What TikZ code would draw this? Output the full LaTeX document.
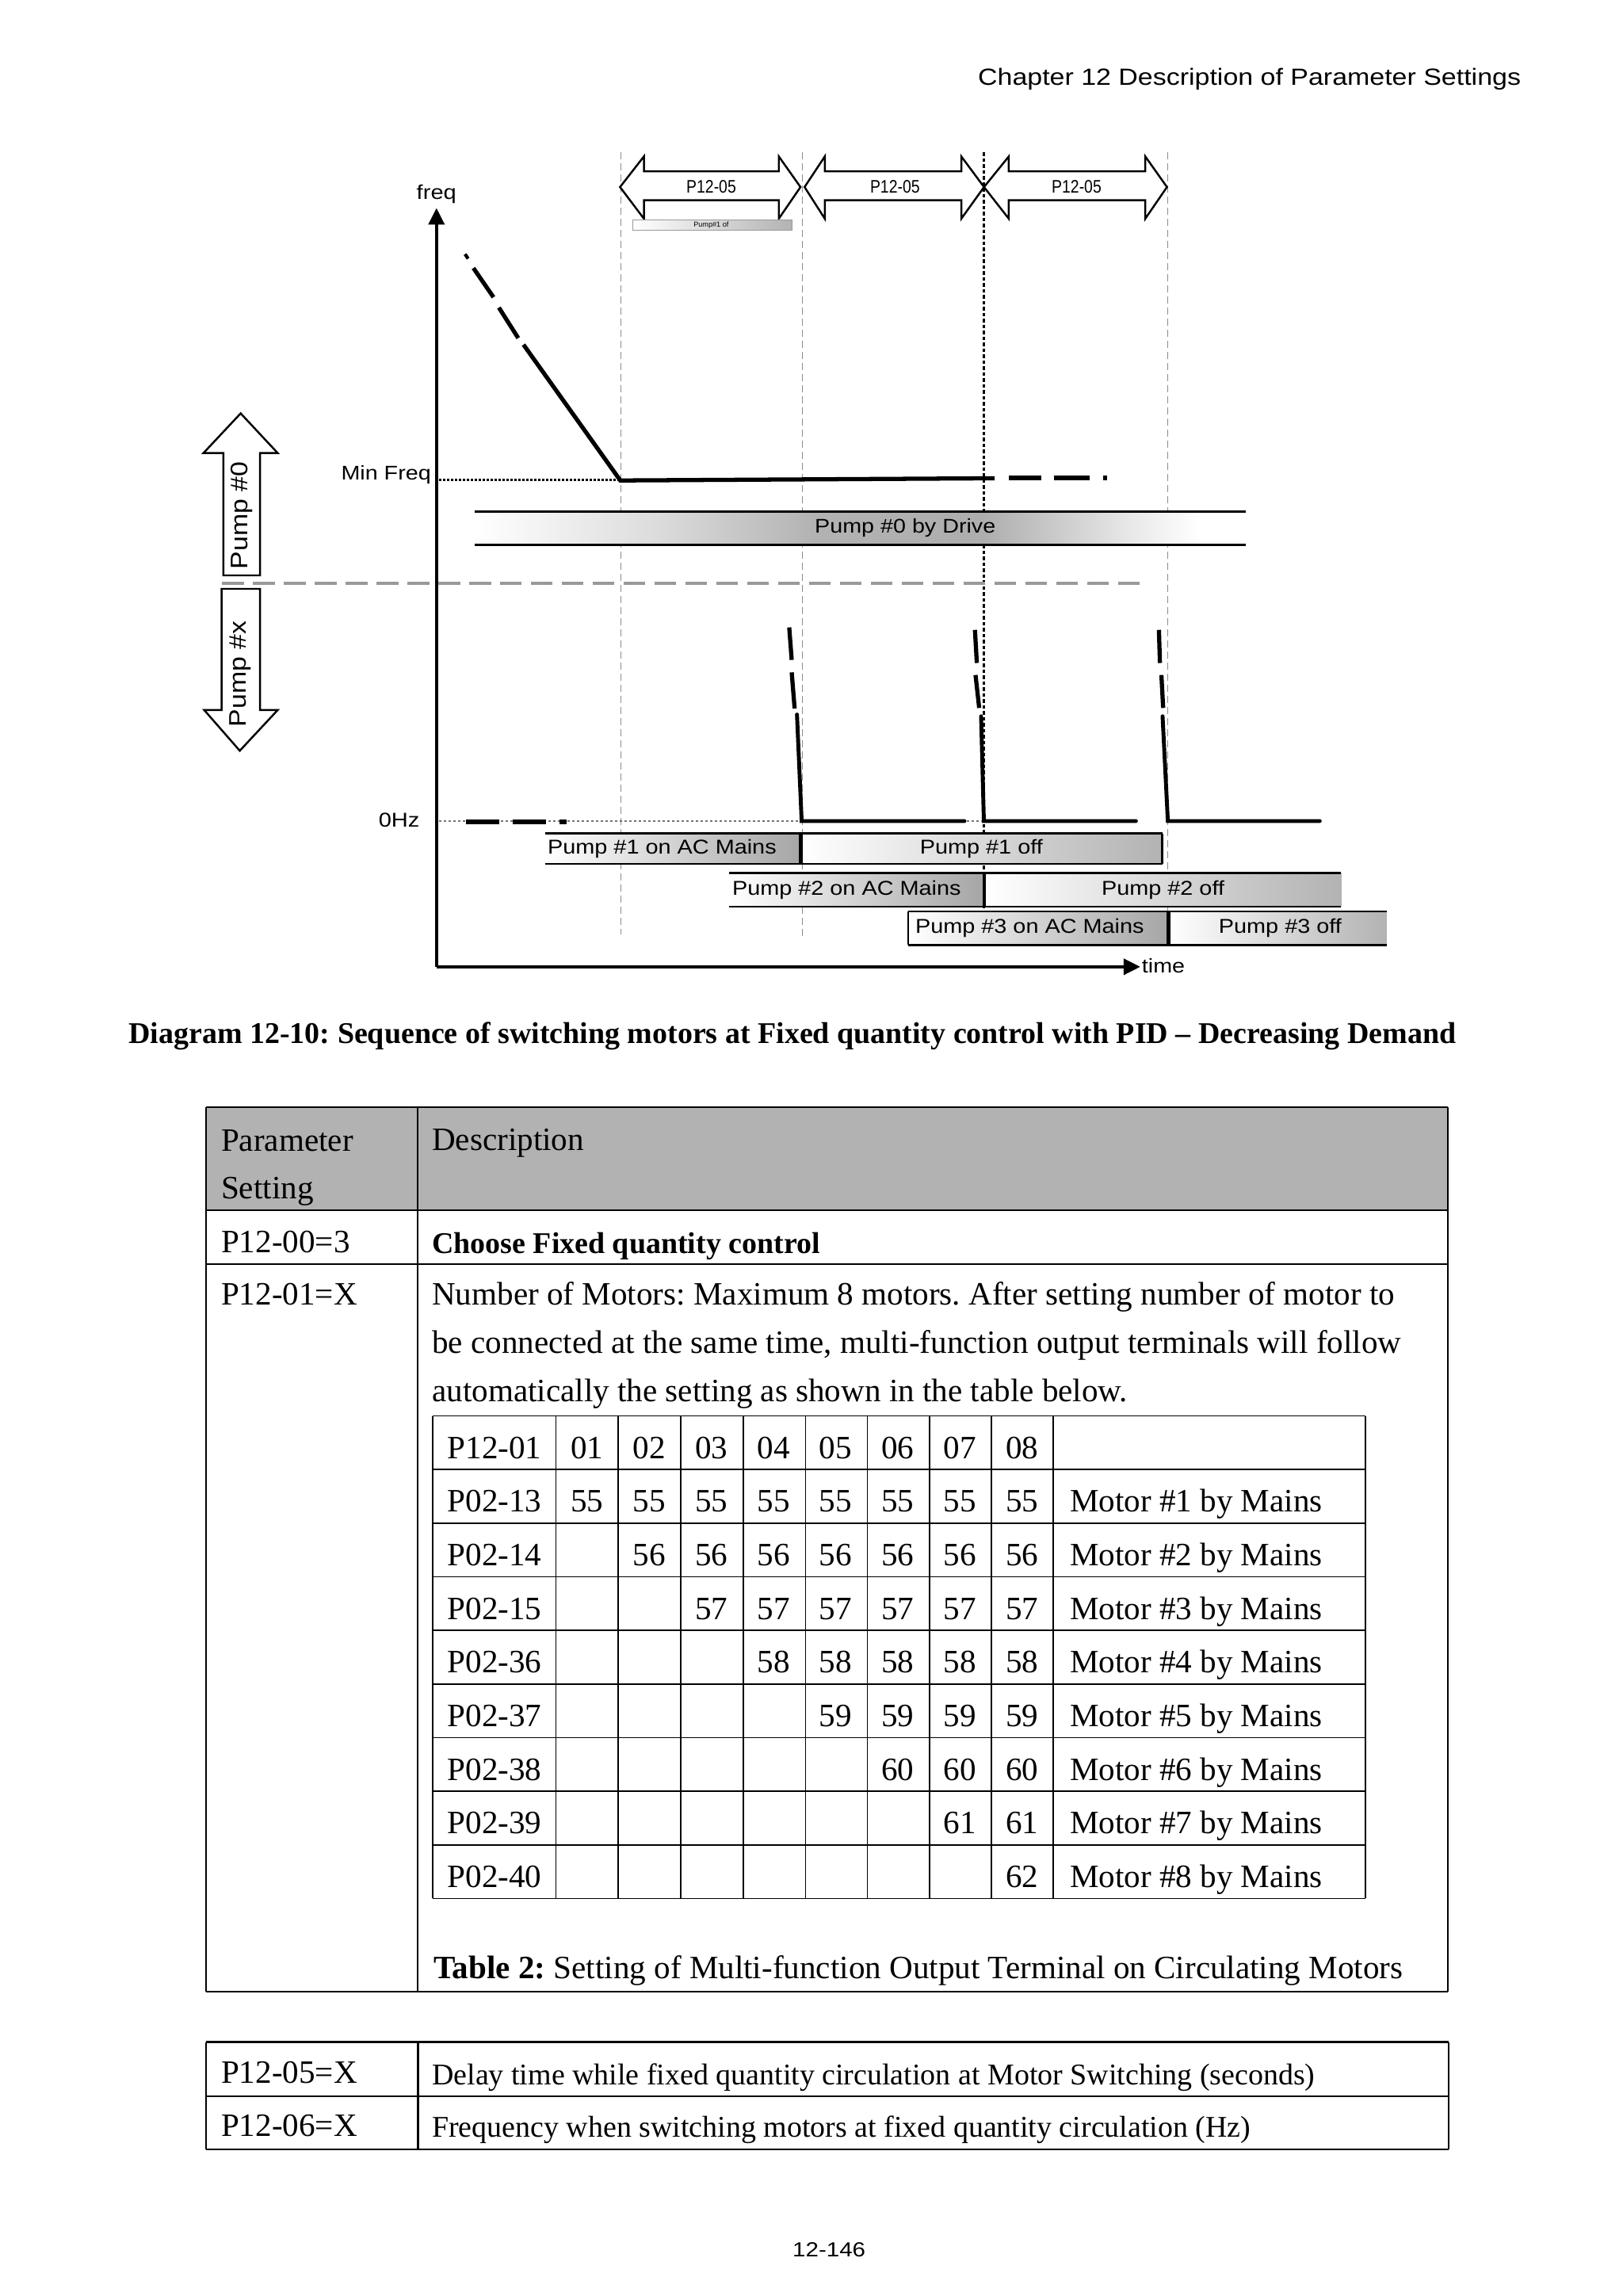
\documentclass[tikz,border=0pt]{standalone}
\usepackage{fontspec}
\setmainfont{Liberation Serif}
\setsansfont{Liberation Sans}
\usepackage{graphicx}
\usetikzlibrary{arrows.meta}
\newcommand\sx[3]{{\sffamily\fontsize{#1}{#1}\selectfont\scalebox{#2}[1]{#3}}}
\pgfdeclarehorizontalshading{bandshade}{100bp}{color(0bp)=(white); color(25bp)=(white); color(37bp)=(black!14); color(47bp)=(black!30); color(58bp)=(black!32); color(67bp)=(black!10); color(72bp)=(white); color(100bp)=(white)}
\frenchspacing
\begin{document}
\begin{tikzpicture}[x=0.18484mm, y=-0.18484mm,
  lbl/.style={inner sep=0pt, outer sep=0pt},
  freqline/.style={line width=1.5pt, line cap=butt},
  dropline/.style={line width=1.4pt, line cap=round, line join=miter},
  axisline/.style={line width=1.1pt},
  vguide/.style={black!45, line width=0.3pt, dash pattern=on 0.9mm off 0.5mm},
  blockarrow/.style={draw=black, line width=0.7pt, fill=white, line join=miter},
  bandline/.style={line width=0.8pt},
  barline/.style={line width=0.8pt},
  splitline/.style={line width=1.3pt},
  tline/.style={line width=0.6pt},
  body/.style={inner sep=0pt, outer sep=0pt, anchor=base west, font=\fontsize{11.7pt}{17pt}\selectfont},
  bodysmall/.style={inner sep=0pt, outer sep=0pt, anchor=base west, font=\fontsize{10.8pt}{13pt}\selectfont},
  cellnum/.style={inner sep=0pt, outer sep=0pt, anchor=base, font=\fontsize{11.7pt}{17pt}\selectfont},
  atip/.style={-{Triangle[length=2.1mm,width=2mm]}}
]
\useasboundingbox (0,0) rectangle (1108,1567.4);

% header
\node[lbl, anchor=base east] (hdr) at (1038.3,57.9) {\sx{8.4pt}{1.15}{Chapter 12 Description of Parameter Settings}};

% ---------------- chart -----------------
% guide lines
\draw[vguide] (424,104) -- (424,638);
\draw[vguide] (547.8,104) -- (547.8,641);
\draw[vguide] (797.3,104) -- (797.3,622);
\draw[line width=0.9pt, dash pattern=on 0.45mm off 0.3mm] (671.8,104) -- (671.8,620);

% P12-05 block arrows
\draw[blockarrow] (423.3,127.7) -- (439.6,106.8) -- (439.6,116.9) -- (531.7,116.9) -- (531.7,106.8) -- (546.5,127.7) -- (531.7,149.3) -- (531.7,136.7) -- (439.6,136.7) -- (439.6,149.3) -- cycle;
\draw[blockarrow] (549.3,127.7) -- (563.1,106.8) -- (563.1,116.9) -- (656.3,116.9) -- (656.3,106.8) -- (671.8,127.7) -- (656.3,149.3) -- (656.3,136.7) -- (563.1,136.7) -- (563.1,149.3) -- cycle;
\draw[blockarrow] (671.8,127.7) -- (688.7,106.8) -- (688.7,116.9) -- (781.9,116.9) -- (781.9,106.8) -- (796.7,127.7) -- (781.9,149.3) -- (781.9,136.7) -- (688.7,136.7) -- (688.7,149.3) -- cycle;
\node[lbl] (d1) at (485.6,127.3) {\sx{6.5pt}{0.85}{P12-05}};
\node[lbl] (d2) at (611,127.3) {\sx{6.5pt}{0.85}{P12-05}};
\node[lbl] (d3) at (735,127.3) {\sx{6.5pt}{0.85}{P12-05}};

% small bar under first arrow
\shade[left color=white, right color=black!30] (432,150) rectangle (540.7,157.3);
\draw[black!40, line width=0.3pt] (432,150) rectangle (540.7,157.3);
\node[lbl] (p1of) at (485.5,153.7) {\sx{2.6pt}{1}{Pump\#1 of}};

% axes
\coordinate (O) at (298,660);
\draw[axisline, atip] (O) -- (298,142);
\draw[axisline, atip] (O) -- (778.5,660);
\node[lbl] (freq) at (298,132.5) {\sx{7.2pt}{1.15}{freq}};
\node[lbl, anchor=west] (time) at (779.6,659.5) {\sx{7.1pt}{1.15}{time}};
\node[lbl, anchor=east] (minf) at (294.2,324) {\sx{7.1pt}{1.15}{Min Freq}};
\node[lbl, anchor=east] (zhz) at (286.5,559.9) {\sx{7.2pt}{1.15}{0Hz}};

% reference dotted lines
\draw[line width=0.9pt, dash pattern=on 0.25mm off 0.25mm] (300,327.5) -- (423,327.5);
\draw[black!55, line width=0.4pt, dash pattern=on 0.3mm off 0.3mm] (300,560.5) -- (672,560.5);

% frequency of drive
\draw[line width=1.2pt] (317.5,173.5) -- (319.6,176.6);
\draw[freqline] (323.2,183) -- (336.9,202.9);
\draw[freqline] (340.6,210) -- (353.8,230.8);
\draw[freqline, line join=miter] (357.4,235.3) -- (423.5,328) -- (679,326.5);
\draw[freqline] (689,326.3) -- (711,326.3);
\draw[freqline] (719.6,326.3) -- (744,326.3);
\draw[freqline] (753,326.3) -- (756,326.3);

% Pump #0 by drive band
\shade[shading=bandshade] (324,349.3) rectangle (850.7,371.9);
\draw[bandline] (324,349.3) -- (850.7,349.3);
\draw[bandline] (324,371.9) -- (850.7,371.9);
\node[lbl] (band) at (618,360.6) {\sx{7.1pt}{1.15}{Pump \#0 by Drive}};

% gray separator
\draw[black!40, line width=1.2pt, dash pattern=on 2.75mm off 1.15mm] (151.5,398.2) -- (780,398.2);

% Pump #0 / Pump #x arrows
\draw[blockarrow] (164.3,282.2) -- (189.6,309.3) -- (177.5,309.3) -- (177.5,392.8) -- (152.5,392.8) -- (152.5,309.3) -- (138.9,309.3) -- cycle;
\node[lbl, rotate=90] (p0) at (165,352) {\sx{8.6pt}{1.12}{Pump \#0}};
\draw[blockarrow] (151.3,402) -- (177.5,402) -- (177.5,484.7) -- (189.6,484.7) -- (163.7,512.5) -- (139.4,484.7) -- (151.3,484.7) -- cycle;
\node[lbl, rotate=90] (px) at (164,460) {\sx{8.6pt}{1.12}{Pump \#x}};

% mains pumps frequency drops
\draw[freqline] (538.8,428.3) -- (540.5,450.5);
\draw[freqline] (540.5,459) -- (542.5,483.7);
\draw[dropline] (544.1,487.8) -- (547.3,560.5) -- (658.4,560.5);
\draw[freqline] (665.6,430) -- (666.9,452.6);
\draw[freqline] (666,460.8) -- (668.5,483.3);
\draw[dropline] (669.8,489) -- (671.7,560.5) -- (775.5,560.5);
\draw[freqline] (791.2,430) -- (791.9,452.6);
\draw[freqline] (792.9,460.8) -- (794.1,483.3);
\draw[dropline] (793.7,489) -- (797.3,560.5) -- (901,560.5);
\draw[freqline] (318,561) -- (341,561);
\draw[freqline] (350,561) -- (373,561);
\draw[freqline] (382,561) -- (387,561);

% pump bars row 1
\shade[left color=white, right color=black!35] (372.2,569) rectangle (546.8,589.7);
\shade[left color=white, right color=black!30] (546.8,569) rectangle (793.5,589.7);
\draw[barline] (372.2,569) -- (793.5,569);
\draw[barline] (372.2,589.7) -- (793.5,589.7);
\draw[barline] (793.5,569) -- (793.5,589.7);
\draw[splitline] (546.8,569) -- (546.8,589.7);
\node[lbl] (b11) at (452,579.4) {\sx{7.2pt}{1.14}{Pump \#1 on AC Mains}};
\node[lbl] (b12) at (670,579.4) {\sx{7.2pt}{1.14}{Pump \#1 off}};
% row 2
\shade[left color=white, right color=black!35] (498,596) rectangle (671.9,619);
\shade[left color=white, right color=black!30] (671.9,596) rectangle (915.6,619);
\draw[barline] (498,596) -- (915.6,596);
\draw[barline] (498,619) -- (915.6,619);
\draw[splitline] (671.9,596) -- (671.9,619);
\node[lbl] (b21) at (578,607.5) {\sx{7.2pt}{1.14}{Pump \#2 on AC Mains}};
\node[lbl] (b22) at (794,607.5) {\sx{7.2pt}{1.14}{Pump \#2 off}};
% row 3
\shade[left color=white, right color=black!35] (620,622.2) rectangle (797.8,645);
\shade[left color=white, right color=black!30] (797.8,622.2) rectangle (946.7,645);
\draw[barline] (620,622.2) -- (946.7,622.2);
\draw[barline] (620,645) -- (946.7,645);
\draw[line width=0.5pt] (620,622.2) -- (620,645);
\draw[splitline] (797.8,622.2) -- (797.8,645);
\node[lbl] (b31) at (703,633.6) {\sx{7.2pt}{1.14}{Pump \#3 on AC Mains}};
\node[lbl] (b32) at (874,633.6) {\sx{7.2pt}{1.14}{Pump \#3 off}};

% caption
\node[lbl, anchor=base, font=\fontsize{10.8pt}{13pt}\selectfont\bfseries] (cap) at (541,712.3) {Diagram 12-10: Sequence of switching motors at Fixed quantity control with PID -- Decreasing Demand};

% ---------------- main table -----------------
\fill[black!30] (140.5,756) rectangle (988.5,826.3);
\draw[tline] (140.5,756) -- (988.5,756);
\draw[tline] (140.5,826.3) -- (988.5,826.3);
\draw[tline] (140.5,863) -- (988.5,863);
\draw[tline] (140.5,1359.4) -- (988.5,1359.4);
\draw[tline] (140.5,756) -- (140.5,1359.4);
\draw[tline] (285.2,756) -- (285.2,1359.4);
\draw[tline] (988.5,756) -- (988.5,1359.4);

\node[body] (tp1) at (151,785.9) {Parameter};
\node[body] (tp2) at (151,818.2) {Setting};
\node[body] (td) at (295,785.5) {Description};
\node[body] (r1a) at (151,855.2) {P12-00=3};
\node[bodysmall, font=\fontsize{10.8pt}{13pt}\selectfont\bfseries] (r1b) at (295,855.7) {Choose Fixed quantity control};
\node[body] (r2a) at (151,891) {P12-01=X};
\node[body] (l1) at (295,891) {Number of Motors: Maximum 8 motors. After setting number of motor to};
\node[body] (l2) at (295,924) {be connected at the same time, multi-function output terminals will follow};
\node[body] (l3) at (295,957) {automatically the setting as shown in the table below.};

% inner table grid
\foreach \xx in {295.2,379.5,422.1,464.7,507.4,550,592.1,634.8,676.9,719.1,932.2}
  \draw[line width=0.5pt] (\xx,966.6) -- (\xx,1296);
\foreach \k in {0,...,9}
  \draw[line width=0.5pt] (295.2,966.6+36.6*\k) -- (932.2,966.6+36.6*\k);
\node[body] (it0) at (305.5,995.6) {P12-01};
\foreach \j in {1,...,8}
  \node[cellnum] (h\j) at (358.275+42.45*\j,995.6) {0\j};
\foreach \k/\lab in {1/13,2/14,3/15,4/36,5/37,6/38,7/39,8/40} {
  \node[body] (pl\k) at (305.5,995.6+36.6*\k) {P02-\lab};
  \pgfmathtruncatemacro\vv{54+\k}
  \foreach \j in {\k,...,8}
    \node[cellnum] (n\k-\j) at (358.275+42.45*\j,995.6+36.6*\k) {\vv};
  \node[body] (m\k) at (730.4,995.6+36.6*\k) {Motor \#\k\ by Mains};
}
\node[body] (t2) at (296,1350.7) {\textbf{Table 2:} Setting of Multi-function Output Terminal on Circulating Motors};

% ---------------- second table -----------------
\draw[tline] (140.5,1394) -- (989,1394);
\draw[tline] (140.5,1431) -- (989,1431);
\draw[tline] (140.5,1467.4) -- (989,1467.4);
\draw[tline] (140.5,1394) -- (140.5,1467.4);
\draw[tline] (285.4,1394) -- (285.4,1467.4);
\draw[tline] (989,1394) -- (989,1467.4);
\node[body] (s1a) at (151,1421.9) {P12-05=X};
\node[bodysmall] (s1b) at (295,1423) {Delay time while fixed quantity circulation at Motor Switching (seconds)};
\node[body] (s2a) at (151,1458.5) {P12-06=X};
\node[bodysmall] (s2b) at (295,1459) {Frequency when switching motors at fixed quantity circulation (Hz)};

% footer
\node[lbl] (ftr) at (566,1536) {\sx{7.3pt}{1.15}{12-146}};
\end{tikzpicture}
\end{document}
